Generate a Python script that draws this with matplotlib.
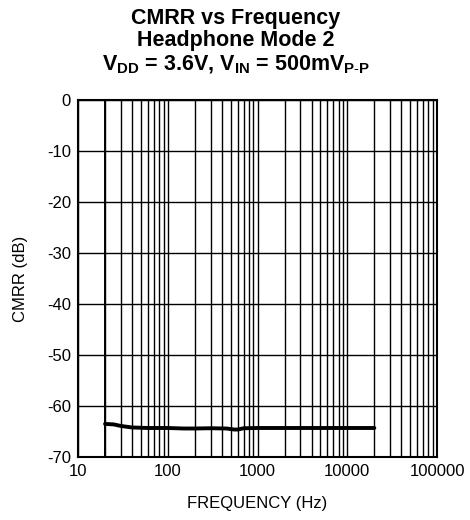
import numpy as np
import matplotlib
matplotlib.use("Agg")
import matplotlib.pyplot as plt
from matplotlib.ticker import LogLocator, FixedLocator, NullFormatter

plt.rcParams['font.family'] = ['Liberation Sans', 'DejaVu Sans']
plt.rcParams['mathtext.fontset'] = 'custom'
plt.rcParams['mathtext.rm'] = 'Liberation Sans'
plt.rcParams['mathtext.bf'] = 'Liberation Sans:bold'

# Measured CMRR curve
freq_hz = [20, 25, 30, 40, 60, 100, 150, 200, 300, 450, 550, 600, 700, 1000,
           2000, 5000, 10000, 20000]
cmrr_db = [-63.5, -63.6, -63.9, -64.2, -64.3, -64.3, -64.4, -64.4, -64.35,
           -64.4, -64.6, -64.6, -64.35, -64.3, -64.3, -64.3, -64.3, -64.3]

x_ticks = [10, 100, 1000, 10000, 100000]
x_tick_labels = ["10", "100", "1000", "10000", "100000"]
y_ticks = [0, -10, -20, -30, -40, -50, -60, -70]

fig = plt.figure(figsize=(4.7, 5.2), dpi=100)
ax = fig.add_axes([0.166, 0.121, 0.764, 0.687])

ax.set_xscale('log')
ax.set_xlim(10, 100000)
ax.set_ylim(-70, 0)

ax.xaxis.set_major_locator(FixedLocator(x_ticks))
ax.set_xticklabels(x_tick_labels)
ax.xaxis.set_minor_locator(LogLocator(base=10, subs=np.arange(2, 10)))
ax.xaxis.set_minor_formatter(NullFormatter())
ax.set_yticks(y_ticks)
ax.set_yticklabels([str(v) for v in y_ticks])

ax.grid(True, which='major', axis='both', color='black', linewidth=1.0)
ax.grid(True, which='minor', axis='x', color='black', linewidth=1.0)
ax.axvline(20, color='black', linewidth=1.4, zorder=1)

ax.tick_params(which='both', length=0, labelsize=12, pad=5, colors='black')
for s in ax.spines.values():
    s.set_linewidth(1.5)
    s.set_color('black')

ax.plot(freq_hz, cmrr_db, color='black', linewidth=2.8, solid_capstyle='round', zorder=3)

ax.set_xlabel("FREQUENCY (Hz)", fontsize=12, labelpad=12)
ax.set_ylabel("CMRR (dB)", fontsize=12, labelpad=14)

title_kw = dict(ha='center', va='center', fontsize=15.5, fontweight='bold')
fig.text(0.502, 0.965, "CMRR vs Frequency", **title_kw)
fig.text(0.502, 0.922, "Headphone Mode 2", **title_kw)
fig.text(0.502, 0.876,
         r"$\mathbf{V_{DD}}$ = 3.6V, $\mathbf{V_{IN}}$ = 500m$\mathbf{V_{P\text{-}P}}$",
         **title_kw)

fig.savefig("out.png", dpi=100)
